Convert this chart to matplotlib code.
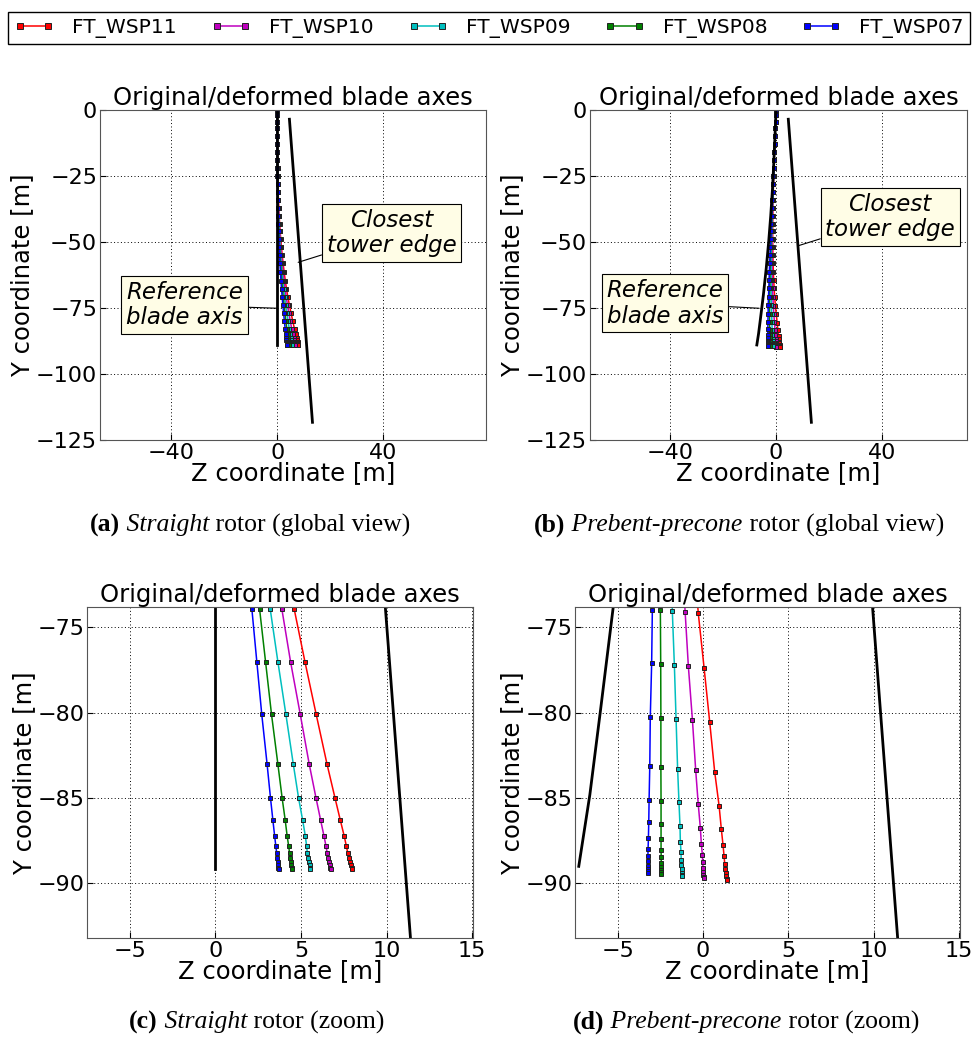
import matplotlib
matplotlib.use("Agg")
import matplotlib.pyplot as plt
from matplotlib.lines import Line2D

# ---- data ----
series_names = ["FT_WSP11", "FT_WSP10", "FT_WSP09", "FT_WSP08", "FT_WSP07"]
series_colors = ["#ff0000", "#bf00bf", "#00bfbf", "#008000", "#0000ff"]

# blade stations (radial position, m)
stations = [0, 2, 4.5, 7, 10, 13, 16, 19, 22, 25, 28, 31, 34, 37, 40, 43, 46, 49, 52,
            55, 58, 61.5, 64.6, 67.7, 70.8, 73.9, 77.0, 80.1, 83.0, 85.0, 86.3, 87.2,
            87.8, 88.2, 88.5, 88.75, 88.95, 89.08, 89.17]

# straight rotor, deformed Z coordinate per wind speed
straight_z = [
    [0, 0, 0, 0, 0.01, 0.02, 0.05, 0.08, 0.12, 0.18, 0.25, 0.34, 0.44, 0.57, 0.72, 0.89, 1.10,
     1.32, 1.58, 1.87, 2.20, 2.62, 3.03, 3.49, 3.99, 4.60, 5.23, 5.89, 6.52, 6.99, 7.30, 7.52,
     7.65, 7.73, 7.80, 7.87, 7.92, 7.96, 7.98],
    [0, 0, 0, 0, 0.01, 0.02, 0.04, 0.07, 0.10, 0.15, 0.21, 0.28, 0.37, 0.48, 0.61, 0.76, 0.93,
     1.12, 1.34, 1.58, 1.85, 2.21, 2.56, 2.95, 3.37, 3.88, 4.39, 4.96, 5.48, 5.88, 6.15, 6.34,
     6.46, 6.53, 6.59, 6.65, 6.69, 6.72, 6.74],
    [0, 0, 0, 0, 0.01, 0.02, 0.03, 0.05, 0.08, 0.12, 0.17, 0.23, 0.31, 0.40, 0.50, 0.62, 0.76,
     0.92, 1.10, 1.30, 1.52, 1.82, 2.11, 2.42, 2.77, 3.20, 3.65, 4.12, 4.55, 4.86, 5.10, 5.25,
     5.33, 5.37, 5.42, 5.46, 5.50, 5.52, 5.54],
    [0, 0, 0, 0, 0.01, 0.01, 0.03, 0.04, 0.07, 0.10, 0.14, 0.19, 0.25, 0.32, 0.40, 0.50, 0.61,
     0.74, 0.89, 1.05, 1.23, 1.47, 1.70, 1.96, 2.24, 2.58, 2.93, 3.28, 3.65, 3.90, 4.08, 4.19,
     4.28, 4.33, 4.37, 4.41, 4.44, 4.46, 4.47],
    [0, 0, 0, 0, 0.01, 0.01, 0.02, 0.04, 0.06, 0.08, 0.11, 0.15, 0.20, 0.26, 0.33, 0.41, 0.51,
     0.61, 0.73, 0.87, 1.02, 1.21, 1.40, 1.61, 1.85, 2.13, 2.42, 2.71, 3.02, 3.22, 3.36, 3.46,
     3.53, 3.58, 3.61, 3.64, 3.66, 3.68, 3.69],
]

# prebent-precone rotor, deformed Z and Y coordinates
prebent_z = [
    [0, -0.09, -0.20, -0.31, -0.43, -0.54, -0.65, -0.75, -0.83, -0.92, -1.00, -1.08, -1.14,
     -1.20, -1.25, -1.28, -1.29, -1.29, -1.26, -1.22, -1.15, -1.04, -0.90, -0.74, -0.54, -0.28,
     0.06, 0.39, 0.68, 0.94, 1.07, 1.17, 1.23, 1.27, 1.31, 1.34, 1.36, 1.38, 1.39],
    [0, -0.09, -0.20, -0.31, -0.43, -0.55, -0.66, -0.76, -0.85, -0.95, -1.04, -1.13, -1.21,
     -1.30, -1.37, -1.43, -1.47, -1.51, -1.52, -1.54, -1.52, -1.48, -1.41, -1.33, -1.22, -1.05,
     -0.86, -0.62, -0.43, -0.28, -0.16, -0.10, -0.04, -0.02, 0.00, 0.01, 0.02, 0.03, 0.04],
    [0, -0.09, -0.20, -0.31, -0.43, -0.55, -0.66, -0.77, -0.87, -0.98, -1.08, -1.19, -1.28,
     -1.39, -1.48, -1.57, -1.65, -1.72, -1.78, -1.84, -1.87, -1.90, -1.89, -1.88, -1.85, -1.80,
     -1.68, -1.58, -1.49, -1.41, -1.35, -1.33, -1.29, -1.28, -1.27, -1.26, -1.25, -1.24, -1.23],
    [0, -0.09, -0.20, -0.31, -0.43, -0.55, -0.67, -0.78, -0.89, -1.00, -1.12, -1.24, -1.35,
     -1.47, -1.59, -1.71, -1.81, -1.92, -2.02, -2.12, -2.20, -2.30, -2.35, -2.41, -2.46, -2.50,
     -2.48, -2.47, -2.47, -2.46, -2.46, -2.46, -2.46, -2.45, -2.45, -2.45, -2.44, -2.44, -2.44],
    [0, -0.09, -0.20, -0.31, -0.43, -0.56, -0.68, -0.79, -0.90, -1.02, -1.14, -1.27, -1.40,
     -1.53, -1.66, -1.79, -1.92, -2.06, -2.17, -2.31, -2.42, -2.56, -2.66, -2.76, -2.86, -2.97,
     -3.01, -3.09, -3.12, -3.16, -3.18, -3.20, -3.22, -3.23, -3.24, -3.24, -3.24, -3.24, -3.24],
]
prebent_y_root = [0, -2, -4.5, -7, -10, -13, -16, -19, -22, -25, -28, -31, -34, -37, -40, -43,
                  -46, -49, -52, -55, -58, -61.4, -64.5, -67.6, -70.7]
prebent_y_tip = [
    [-74.16, -77.36, -80.54, -83.45, -85.45, -86.81, -87.75, -88.39, -88.84, -89.14, -89.39,
     -89.59, -89.72, -89.81],
    [-74.08, -77.28, -80.45, -83.38, -85.37, -86.73, -87.67, -88.32, -88.77, -89.07, -89.31,
     -89.50, -89.60, -89.66],
    [-74.04, -77.20, -80.37, -83.28, -85.25, -86.62, -87.55, -88.18, -88.61, -88.92, -89.17,
     -89.37, -89.48, -89.55],
    [-74.00, -77.13, -80.29, -83.18, -85.17, -86.50, -87.42, -88.06, -88.47, -88.78, -89.03,
     -89.23, -89.36, -89.43],
    [-73.96, -77.09, -80.25, -83.10, -85.09, -86.42, -87.36, -87.98, -88.41, -88.71, -88.96,
     -89.16, -89.29, -89.38],
]

# undeformed reference blade axes
straight_ref_z = [0, 0]
straight_ref_y = [0, -89.17]
prebent_ref_z = [0, -0.87, -1.38, -2.03, -2.81, -3.73, -4.80, -5.26, -6.00, -6.63, -7.28]
prebent_ref_y = [0, -20, -30, -40, -50, -60, -70, -73.8, -79.8, -84.8, -89.0]

# closest tower edge
tower_z = [4.6, 13.3]
tower_y = [-3.5, -118.3]

# ---- figure ----
W, H = 977, 1037
fig = plt.figure(figsize=(W / 100, H / 100), dpi=100)
plt.rcParams["font.family"] = "DejaVu Sans"


def rect(x0, y0, x1, y1):
    return [x0 / W, 1 - y1 / H, (x1 - x0) / W, (y1 - y0) / H]


def draw_panel(ax, zs, ys, ref_z, ref_y, xlim, ylim, xticks, yticks):
    for z, y, c, name in zip(zs, ys, series_colors, series_names):
        ax.plot(z, y, "-s", color=c, lw=1.1, ms=3.4, mfc=c, mec="#222222", mew=0.7, label=name)
    ax.plot(ref_z, ref_y, "k-", lw=2)
    ax.plot(tower_z, tower_y, "k-", lw=2)
    ax.set_xlim(xlim)
    ax.set_ylim(ylim)
    ax.set_xticks(xticks)
    ax.set_yticks(yticks)
    ax.grid(True, ls=(0, (1, 2.5)), color="k", lw=0.7)
    ax.tick_params(direction="in", length=4, labelsize=16, pad=2)
    for s in ax.spines.values():
        s.set_color("#555555")
    ax.set_title("Original/deformed blade axes", fontsize=17.5, pad=1)
    ax.set_xlabel("Z coordinate [m]", fontsize=17.5, labelpad=-1)
    ax.set_ylabel("Y coordinate [m]", fontsize=17.5, labelpad=1)


def label_box(ax, text, xy, xytext):
    ax.annotate(text, xy=xy, xytext=xytext, ha="center", va="center",
                fontsize=16.5, style="italic", linespacing=1.15,
                bbox=dict(boxstyle="square,pad=0.2", fc="#fffde6", ec="k", lw=0.8),
                arrowprops=dict(arrowstyle="-", color="k", lw=0.8, shrinkA=0, shrinkB=0))


prebent_y = [prebent_y_root + tip for tip in prebent_y_tip]
straight_y = [[-r for r in stations] for _ in series_names]

ax_a = fig.add_axes(rect(100, 110, 486, 440))
draw_panel(ax_a, straight_z, straight_y, straight_ref_z, straight_ref_y,
           (-66.9, 78.8), (-125, 0), [-40, 0, 40], [0, -25, -50, -75, -100, -125])
label_box(ax_a, "Reference\nblade axis", (0, -75.1), (-35, -73.9))
label_box(ax_a, "Closest\ntower edge", (7.9, -57.7), (43.1, -46.6))

ax_b = fig.add_axes(rect(590, 110, 967, 440))
draw_panel(ax_b, prebent_z, prebent_y, prebent_ref_z, prebent_ref_y,
           (-70.2, 72.0), (-125, 0), [-40, 0, 40], [0, -25, -50, -75, -100, -125])
label_box(ax_b, "Reference\nblade axis", (-6.4, -75.1), (-41.9, -73.2))
label_box(ax_b, "Closest\ntower edge", (8.4, -51.4), (43.0, -40.5))

ax_c = fig.add_axes(rect(87, 607, 473, 938))
draw_panel(ax_c, straight_z, straight_y, straight_ref_z, straight_ref_y,
           (-7.5, 15.05), (-93.2, -73.8), [-5, 0, 5, 10, 15], [-75, -80, -85, -90])

ax_d = fig.add_axes(rect(575, 607, 960, 938))
draw_panel(ax_d, prebent_z, prebent_y, prebent_ref_z, prebent_ref_y,
           (-7.5, 15.05), (-93.2, -73.8), [-5, 0, 5, 10, 15], [-75, -80, -85, -90])

# legend across the top
handles = [Line2D([], [], color=c, lw=1.1, marker="s", ms=5, mfc=c, mec="#222222", mew=0.7)
           for c in series_colors]
fig.legend(handles, series_names, loc="lower left", ncol=5, mode="expand",
           bbox_to_anchor=(8 / W, 1 - 44 / H, 962 / W, 34 / H), fontsize=14.5,
           numpoints=2, fancybox=False, edgecolor="k", borderaxespad=0,
           handlelength=2.0, handletextpad=0.9, borderpad=0.3, framealpha=1)

# sub-figure captions (mixed bold / italic / roman)
renderer = fig.canvas.get_renderer()
serif = ["Liberation Serif", "DejaVu Serif"]


def caption(xc, yc, parts):
    texts = []
    for s, kw in parts:
        texts.append(fig.text(0, 1 - yc / H, s, family=serif, fontsize=18.5, va="center", **kw))
    widths = [t.get_window_extent(renderer).width for t in texts]
    x = xc - sum(widths) / 2
    for t, w in zip(texts, widths):
        t.set_x(x / W)
        x += w


caption(250, 525, [("(a)", dict(weight="bold")), (" Straight", dict(style="italic")),
                   (" rotor (global view)", {})])
caption(739, 525, [("(b)", dict(weight="bold")), (" Prebent-precone", dict(style="italic")),
                   (" rotor (global view)", {})])
caption(257, 1022, [("(c)", dict(weight="bold")), (" Straight", dict(style="italic")),
                    (" rotor (zoom)", {})])
caption(746, 1022, [("(d)", dict(weight="bold")), (" Prebent-precone", dict(style="italic")),
                    (" rotor (zoom)", {})])

fig.savefig("out.png", dpi=100)
